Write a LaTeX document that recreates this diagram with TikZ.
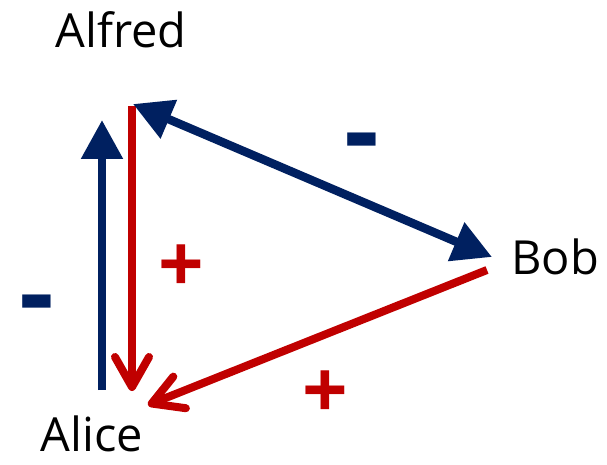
\documentclass[tikz,border=0pt]{standalone}
\usepackage{fontspec}
\setmainfont{Open Sans}
\usetikzlibrary{arrows.meta}
\definecolor{navy}{HTML}{002060}
\definecolor{darkred}{HTML}{C00000}
\begin{document}
\begin{tikzpicture}[x=1pt, y=-1pt,
  person/.style={font=\fontsize{47}{50}\selectfont, anchor=base, inner sep=0pt},
  sign/.style={font=\bfseries\fontsize{80}{80}\selectfont, inner sep=0pt},
  minus/.style={font=\bfseries\fontsize{108}{108}\selectfont, inner sep=0pt},
  negarrow/.style={navy, line width=8.5pt, -{Triangle[length=39pt, width=40pt]}},
  posarrow/.style={darkred, line width=8pt, -{Straight Barb[length=30pt, width=34pt, round]}}]
\useasboundingbox (0,0) rectangle (607,465);
\node[person] (alfred) at (121,48) {Alfred};
\node[person] (bob) at (555,274) {Bob};
\node[person] (alice) at (92,451) {Alice};
% arrow ends
\coordinate (alfredL) at (102,120);
\coordinate (alfredR) at (132,106);
\coordinate (alfredD) at (133,104);
\coordinate (bobU) at (492,257);
\coordinate (bobD) at (487,270);
\coordinate (aliceL) at (102,390);
\coordinate (aliceR) at (132,391);
\coordinate (aliceD) at (148,405);
\draw[negarrow] (aliceL) -- (alfredL);
\draw[posarrow] (alfredR) -- (aliceR);
\draw[negarrow, {Triangle[length=39pt, width=40pt]}-{Triangle[length=39pt, width=40pt]}] (alfredD) -- (bobU);
\draw[posarrow] (bobD) -- (aliceD);
% signs
\node[minus, navy] (m1) at (362,151) {-};
\node[minus, navy] (m2) at (37,313) {-};
\node[sign, darkred] (p1) at (181,269) {+};
\node[sign, darkred] (p2) at (325,395) {+};
\end{tikzpicture}
\end{document}
